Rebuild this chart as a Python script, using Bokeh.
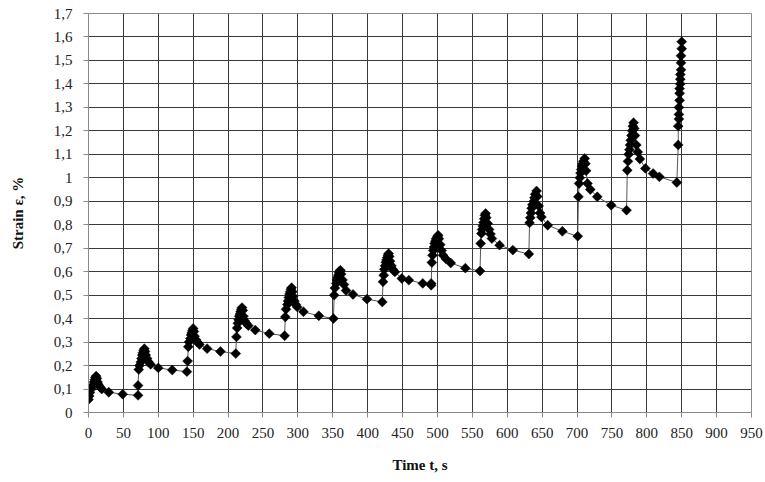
import math
from bokeh.plotting import figure
from bokeh.models import FixedTicker, Range1d
from bokeh.embed import file_html
from bokeh.resources import INLINE

# Creep test: strain under stepwise loading, one loading step roughly every 70 s
time_s = [
    0, 1, 2, 4, 6, 8, 9, 10, 11, 12, 13, 14, 16, 19, 29, 49, 71,
    71, 72, 73, 75, 76, 77, 78, 79, 80, 81, 82, 84, 86, 89, 100, 120, 141,
    142, 143, 144, 146, 147, 148, 149, 150, 151, 152, 154, 156, 159, 170, 189, 211,
    212, 213, 214, 215, 216, 217, 218, 219, 220, 221, 222, 224, 226, 229, 239, 259, 281,
    282, 283, 285, 286, 287, 288, 289, 290, 291, 292, 293, 295, 297, 299, 308, 330, 351,
    352, 353, 355, 356, 357, 358, 359, 360, 361, 362, 364, 366, 369, 379, 399, 421,
    422, 423, 424, 425, 426, 427, 428, 429, 430, 431, 432, 434, 436, 439, 449, 459, 479, 491,
    491, 492, 493, 494, 495, 496, 497, 498, 500, 501, 502, 504, 506, 508, 512, 519, 540, 561,
    562, 563, 564, 565, 566, 567, 568, 569, 570, 572, 574, 576, 578, 589, 608, 631,
    632, 633, 634, 635, 636, 638, 639, 640, 642, 643, 645, 647, 649, 658, 679, 701,
    702, 703, 704, 705, 706, 707, 708, 709, 711, 712, 713, 715, 719, 729, 749, 771,
    772, 773, 774, 775, 776, 777, 778, 779, 780, 781, 782, 783, 785, 787, 790, 798, 809, 818, 843,
    845, 845, 846, 846, 846, 847, 847, 847, 848, 848, 848, 849, 849, 849, 850, 850,
]
strain_pct = [
    0.055, 0.07, 0.085, 0.10, 0.115, 0.13, 0.14, 0.15, 0.155, 0.145, 0.13, 0.12, 0.11, 0.10, 0.086, 0.078, 0.073,
    0.115, 0.183, 0.20, 0.215, 0.23, 0.245, 0.255, 0.265, 0.272, 0.26, 0.245, 0.23, 0.215, 0.205, 0.19, 0.181, 0.174,
    0.219, 0.28, 0.30, 0.315, 0.33, 0.34, 0.35, 0.358, 0.345, 0.325, 0.31, 0.30, 0.29, 0.272, 0.26, 0.251,
    0.322, 0.36, 0.38, 0.395, 0.41, 0.42, 0.43, 0.44, 0.447, 0.435, 0.41, 0.39, 0.38, 0.37, 0.351, 0.336, 0.327,
    0.407, 0.44, 0.46, 0.475, 0.49, 0.505, 0.515, 0.525, 0.532, 0.515, 0.495, 0.475, 0.46, 0.45, 0.429, 0.412, 0.40,
    0.50, 0.53, 0.55, 0.565, 0.575, 0.585, 0.595, 0.603, 0.606, 0.59, 0.565, 0.545, 0.52, 0.503, 0.483, 0.471,
    0.557, 0.585, 0.61, 0.625, 0.64, 0.65, 0.66, 0.67, 0.677, 0.665, 0.645, 0.625, 0.61, 0.599, 0.571, 0.564, 0.55, 0.542,
    0.55, 0.639, 0.67, 0.69, 0.705, 0.72, 0.73, 0.74, 0.75, 0.755, 0.74, 0.715, 0.69, 0.67, 0.655, 0.637, 0.615, 0.603,
    0.72, 0.763, 0.78, 0.795, 0.81, 0.825, 0.84, 0.848, 0.83, 0.805, 0.78, 0.76, 0.741, 0.713, 0.692, 0.675,
    0.808, 0.83, 0.85, 0.87, 0.885, 0.90, 0.915, 0.93, 0.944, 0.92, 0.88, 0.85, 0.833, 0.798, 0.772, 0.751,
    0.919, 0.976, 1.00, 1.02, 1.035, 1.05, 1.06, 1.07, 1.082, 1.06, 1.03, 0.976, 0.95, 0.919, 0.883, 0.862,
    1.032, 1.07, 1.10, 1.12, 1.14, 1.16, 1.18, 1.20, 1.22, 1.235, 1.21, 1.18, 1.14, 1.11, 1.08, 1.04, 1.018, 1.004, 0.98,
    1.14, 1.22, 1.25, 1.27, 1.30, 1.33, 1.36, 1.38, 1.40, 1.42, 1.44, 1.46, 1.49, 1.52, 1.55, 1.58,
]

x_ticks = list(range(0, 951, 50))
y_ticks = [round(i * 0.1, 1) for i in range(18)]
y_tick_labels = ["0", "0,1", "0,2", "0,3", "0,4", "0,5", "0,6", "0,7", "0,8", "0,9",
                 "1", "1,1", "1,2", "1,3", "1,4", "1,5", "1,6", "1,7"]

p = figure(width=765, height=482, output_backend="svg", toolbar_location=None,
           x_range=Range1d(0, 950), y_range=Range1d(0, 1.7))
p.min_border_left = 88
p.min_border_right = 14
p.min_border_top = 13
p.min_border_bottom = 70
p.background_fill_color = "white"
p.border_fill_color = "white"
p.outline_line_color = "#8a8a8a"
p.outline_line_width = 1

serif = "'Liberation Serif', 'Times New Roman', serif"

p.xaxis.ticker = FixedTicker(ticks=x_ticks)
p.yaxis.ticker = FixedTicker(ticks=y_ticks)
p.yaxis.major_label_overrides = {t: lab for t, lab in zip(y_ticks, y_tick_labels)}
p.xaxis.major_label_overrides = {t: str(t) for t in x_ticks}

for ax in (p.xaxis, p.yaxis):
    ax.axis_line_color = "#8a8a8a"
    ax.major_tick_line_color = "#8a8a8a"
    ax.major_tick_in = 0
    ax.major_tick_out = 5
    ax.minor_tick_line_color = None
    ax.major_label_text_font = serif
    ax.major_label_text_font_size = "15px"
    ax.major_label_text_color = "#222222"
    ax.axis_label_text_font = serif
    ax.axis_label_text_font_style = "bold"
    ax.axis_label_text_font_size = "15px"
    ax.axis_label_text_color = "#111111"

p.xaxis.axis_label = "Time t, s"
p.yaxis.axis_label = "Strain \u03b5, %"
p.xaxis.major_label_standoff = 10
p.xaxis.axis_label_standoff = 16
p.yaxis.major_label_standoff = 11
p.yaxis.axis_label_standoff = 25

p.xgrid.grid_line_color = "#3a3a3a"
p.ygrid.grid_line_color = "#3a3a3a"
p.xgrid.grid_line_width = 1
p.ygrid.grid_line_width = 1

p.line(time_s, strain_pct, line_color="#555555", line_width=1)
p.scatter(time_s, strain_pct, marker="square", angle=math.pi / 4, size=7,
          fill_color="black", line_color="black", line_width=0.5)

open("out.html", "w").write(file_html(p, INLINE))
